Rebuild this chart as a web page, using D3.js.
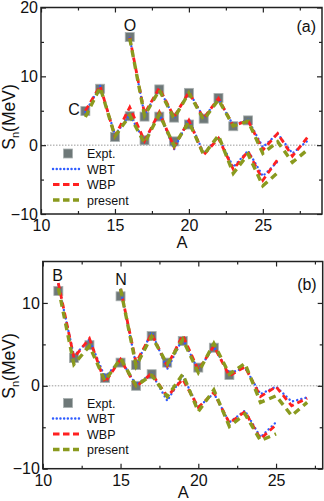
<!DOCTYPE html>
<html>
<head>
<meta charset="utf-8">
<script src="https://cdn.jsdelivr.net/npm/d3@7/dist/d3.min.js"></script>
<style>
  body { margin: 0; background: #fff; }
  svg { font-family: "Liberation Sans", Arial, sans-serif; }
</style>
</head>
<body>
<div id="chart"></div>
<script>
// panel (a): C and O chains
var cExptA = [13, 14, 15, 16, 17, 18, 19, 20];
var cExpt = [4.95, 8.2, 1.2, 4.2, 0.7, 4.15, 0.55, 3.0];
var cTheoA = [13, 14, 15, 16, 17, 18, 19, 20, 21, 22, 23, 24, 25, 26];
var cWBT = [4.8, 8.6, 1.5, 4.4, 0.6, 4.6, -0.6, 3.8, -1.2, 1.2, -3.2, -0.8, -4.5, -2.4];
var cWBP = [5.0, 8.6, 1.3, 5.5, 0.6, 4.8, -0.3, 3.6, -1.4, 1.0, -3.5, -0.9, -5.1, -2.1];
var cPresent = [4.1, 8.4, 1.3, 4.3, 0.3, 4.5, -0.1, 3.4, -1.4, 1.4, -4.1, -1.3, -5.9, -4.0];

var oExptA = [16, 17, 18, 19, 20, 21, 22, 23, 24];
var oExpt = [15.7, 4.15, 8.1, 4.0, 7.6, 3.85, 6.85, 2.75, 3.6];
var oTheoA = [16, 17, 18, 19, 20, 21, 22, 23, 24, 25, 26, 27, 28];
var oWBT = [15.6, 4.4, 8.2, 4.0, 7.8, 4.0, 6.7, 2.9, 3.7, -0.3, 1.7, -1.2, 0.6];
var oWBP = [15.6, 4.6, 8.3, 4.1, 7.7, 3.9, 6.8, 2.8, 3.6, -0.7, 1.7, -1.6, 1.1];
var oPresent = [15.5, 4.3, 8.0, 3.9, 7.6, 3.7, 6.6, 2.8, 3.5, -1.2, 0.5, -2.5, -0.7];

// panel (b): B and N chains
var bExptA = [11, 12, 13, 14, 15, 16, 17];
var bExpt = [11.45, 3.35, 4.9, 0.95, 2.8, 0.0, 1.4];
var bTheoA = [11, 12, 13, 14, 15, 16, 17, 18, 19, 20, 21, 22, 23, 24, 25];
var bWBT = [12.2, 3.6, 5.6, 1.0, 3.2, 0.1, 1.5, -1.8, 1.2, -2.6, -0.9, -4.4, -3.0, -6.2, -4.4];
var bWBP = [12.4, 3.4, 5.7, 0.4, 3.2, -0.1, 1.5, -1.3, 0.8, -2.6, -0.8, -4.5, -3.1, -6.4, -4.7];
var bPresent = [11.8, 2.6, 4.8, 0.6, 3.3, 0.0, 1.3, -1.3, 1.4, -3.1, -0.5, -4.9, -3.4, -6.6, -5.8];

var nExptA = [15, 16, 17, 18, 19, 20, 21, 22];
var nExpt = [10.8, 2.5, 6.0, 2.8, 5.4, 2.2, 4.6, 1.3];
var nTheoA = [15, 16, 17, 18, 19, 20, 21, 22, 23, 24, 25, 26, 27];
var nWBT = [11.6, 2.5, 6.5, 2.0, 5.7, 1.9, 4.7, 1.5, 2.2, -1.0, -0.1, -1.9, -1.4];
var nWBP = [11.7, 2.8, 6.3, 2.4, 6.1, 1.9, 4.8, 1.2, 2.3, -1.3, -0.1, -2.4, -1.5];
var nPresent = [11.7, 2.4, 6.0, 2.6, 5.6, 1.6, 5.1, 1.4, 2.7, -2.0, -1.2, -3.6, -2.0];

var legendNames = ["Expt.", "WBT", "WBP", "present"];

// styles
var exptColor = "#6e7878";
var styles = {
    WBT: { color: "#2f5cff", width: 2.4, dash: "0.1,4.2", cap: "round" },
    WBP: { color: "#ff2020", width: 2.8, dash: "6,4", cap: "butt" },
    present: { color: "#8a9a1e", width: 3.4, dash: "7,5", cap: "butt" }
};

var svg = d3.select("#chart")
    .append("svg")
    .attr("width", 324)
    .attr("height", 501);

function drawPanel(p) {
    var x = d3.scaleLinear().domain(p.xDomain).range([p.left, p.right]);
    var y = d3.scaleLinear().domain(p.yDomain).range([p.bottom, p.top]);
    var g = svg.append("g");

    // zero line
    g.append("line")
        .attr("x1", p.left).attr("x2", p.right)
        .attr("y1", y(0)).attr("y2", y(0))
        .attr("stroke", "#9a9a9a")
        .attr("stroke-width", 1)
        .attr("stroke-dasharray", "1.5,1.5");

    // ticks inward on all four sides
    var majorX = d3.range(p.xDomain[0], p.xDomain[1] + 0.01, 5);
    var minorX = d3.range(p.xDomain[0] + 2.5, p.xDomain[1], 5);
    var majorY = [-10, 0, 10, 20].filter(function(v) { return v <= p.yDomain[1]; });
    var minorY = [-5, 5, 15].filter(function(v) { return v < p.yDomain[1]; });

    function ticks(axisFn, scale, vals, size, pos) {
        var ax = axisFn(scale).tickValues(vals).tickSizeInner(-size).tickSizeOuter(0).tickFormat("");
        var a = g.append("g").attr("transform", pos).call(ax);
        a.select(".domain").remove();
        a.selectAll("line").attr("stroke", "#222").attr("stroke-width", 1.2);
    }

    ticks(d3.axisBottom, x, majorX, 5, "translate(0," + p.bottom + ")");
    ticks(d3.axisBottom, x, minorX, 3, "translate(0," + p.bottom + ")");
    ticks(d3.axisTop, x, majorX, 5, "translate(0," + p.top + ")");
    ticks(d3.axisTop, x, minorX, 3, "translate(0," + p.top + ")");
    ticks(d3.axisLeft, y, majorY, 5, "translate(" + p.left + ",0)");
    ticks(d3.axisLeft, y, minorY, 3, "translate(" + p.left + ",0)");
    ticks(d3.axisRight, y, majorY, 5, "translate(" + p.right + ",0)");
    ticks(d3.axisRight, y, minorY, 3, "translate(" + p.right + ",0)");

    // tick labels
    var bxl = g.append("g").attr("transform", "translate(0," + p.bottom + ")")
        .call(d3.axisBottom(x).tickValues(majorX).tickSize(0).tickPadding(6).tickFormat(d3.format("d")));
    bxl.select(".domain").remove();
    bxl.selectAll("text").attr("font-size", 16).attr("fill", "#111")
        .attr("font-family", "'Liberation Sans', Arial, sans-serif");

    var lyl = g.append("g").attr("transform", "translate(" + p.left + ",0)")
        .call(d3.axisLeft(y).tickValues(majorY).tickSize(0).tickPadding(3).tickFormat(d3.format("d")));
    lyl.select(".domain").remove();
    lyl.selectAll("text").attr("font-size", 16).attr("fill", "#111")
        .attr("font-family", "'Liberation Sans', Arial, sans-serif");

    // frame
    g.append("rect")
        .attr("x", p.left).attr("y", p.top)
        .attr("width", p.right - p.left).attr("height", p.bottom - p.top)
        .attr("fill", "none").attr("stroke", "#222").attr("stroke-width", 1.5);

    // experimental squares
    p.chains.forEach(function(c) {
        g.selectAll(null)
            .data(c.exptA.map(function(a, i) { return [a, c.expt[i]]; }))
            .enter()
            .append("rect")
            .attr("x", function(d) { return x(d[0]) - 4.5; })
            .attr("y", function(d) { return y(d[1]) - 4.5; })
            .attr("width", 9).attr("height", 9)
            .attr("fill", exptColor)
            .attr("stroke", "#a9b0b0").attr("stroke-width", 0.8);
    });

    // theory lines
    var line = d3.line()
        .x(function(d) { return x(d[0]); })
        .y(function(d) { return y(d[1]); });

    ["WBT", "WBP", "present"].forEach(function(name) {
        var s = styles[name];
        p.chains.forEach(function(c) {
            var pts = c.theoA.map(function(a, i) { return [a, c[name][i]]; });
            g.append("path")
                .datum(pts)
                .attr("d", line)
                .attr("fill", "none")
                .attr("stroke", s.color)
                .attr("stroke-width", s.width)
                .attr("stroke-dasharray", s.dash)
                .attr("stroke-linecap", s.cap);
        });
    });

    // element labels
    p.chains.forEach(function(c) {
        g.append("text")
            .attr("x", c.labelPos[0]).attr("y", c.labelPos[1])
            .attr("text-anchor", "middle")
            .attr("font-size", 16)
            .attr("fill", "#111")
            .text(c.label);
    });

    // panel tag
    g.append("text")
        .attr("x", p.right - 6).attr("y", p.tagY)
        .attr("text-anchor", "end")
        .attr("font-size", 16)
        .attr("fill", "#111")
        .text(p.tag);

    // legend
    legendNames.forEach(function(name, i) {
        var cy = p.legendY[i];
        if (name === "Expt.") {
            g.append("rect")
                .attr("x", 63.5).attr("y", cy - 4.5)
                .attr("width", 9).attr("height", 9)
                .attr("fill", exptColor)
                .attr("stroke", "#a9b0b0").attr("stroke-width", 0.8);
        } else {
            var s = styles[name];
            g.append("line")
                .attr("x1", 53).attr("x2", 79)
                .attr("y1", cy).attr("y2", cy)
                .attr("stroke", s.color)
                .attr("stroke-width", s.width)
                .attr("stroke-dasharray", name === "WBT" ? "0.1,3.6" : "6.5,3.5")
                .attr("stroke-linecap", s.cap);
        }
        g.append("text")
            .attr("x", 87).attr("y", cy + 4.5)
            .attr("font-size", 12.5)
            .attr("fill", "#111")
            .text(name);
    });

    // axis titles
    g.append("text")
        .attr("x", (p.left + p.right) / 2 + 0.5).attr("y", p.bottom + p.xTitleDy)
        .attr("text-anchor", "middle")
        .attr("font-size", 16.5)
        .attr("fill", "#111")
        .text("A");

    var yt = g.append("text")
        .attr("transform", "translate(15," + p.yTitleY + ")rotate(-90)")
        .attr("text-anchor", "middle")
        .attr("font-size", 17.5)
        .attr("fill", "#111");
    yt.append("tspan").text("S");
    yt.append("tspan").attr("font-size", 11).attr("dy", 4).text("n");
    yt.append("tspan").attr("dy", -4).text("(MeV)");
}

drawPanel({
    left: 41, right: 322, top: 7.5, bottom: 214,
    xDomain: [10, 29], yDomain: [-10, 20],
    tag: "(a)", tagY: 32,
    legendY: [153.5, 169, 184.5, 200],
    xTitleDy: 33.5, yTitleY: 117,
    chains: [
        { label: "C", labelPos: [74, 115], exptA: cExptA, expt: cExpt, theoA: cTheoA, WBT: cWBT, WBP: cWBP, present: cPresent },
        { label: "O", labelPos: [130, 31], exptA: oExptA, expt: oExpt, theoA: oTheoA, WBT: oWBT, WBP: oWBP, present: oPresent }
    ]
});

drawPanel({
    left: 42.8, right: 322.7, top: 261.5, bottom: 468.7,
    xDomain: [10, 28], yDomain: [-10, 15],
    tag: "(b)", tagY: 290,
    legendY: [403, 418.5, 434, 449.5],
    xTitleDy: 29.5, yTitleY: 366,
    chains: [
        { label: "B", labelPos: [57.5, 280.5], exptA: bExptA, expt: bExpt, theoA: bTheoA, WBT: bWBT, WBP: bWBP, present: bPresent },
        { label: "N", labelPos: [121, 285], exptA: nExptA, expt: nExpt, theoA: nTheoA, WBT: nWBT, WBP: nWBP, present: nPresent }
    ]
});
</script>
</body>
</html>
